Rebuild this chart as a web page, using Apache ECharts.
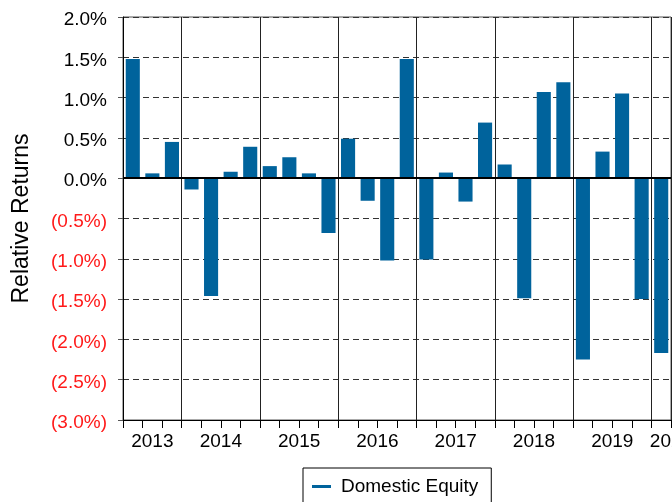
<!DOCTYPE html>
<html>
<head>
<meta charset="utf-8">
<script src="https://cdn.jsdelivr.net/npm/echarts@6/dist/echarts.min.js"></script>
<style>
  html, body { margin: 0; padding: 0; background: #fff; }
  #chart { width: 672px; height: 502px; }
</style>
</head>
<body>
<div id="chart"></div>
<script>
// quarters shown on the chart (2013 Q2 .. 2020 Q1)
var quarters = [
  '2013Q2', '2013Q3', '2013Q4',
  '2014Q1', '2014Q2', '2014Q3', '2014Q4',
  '2015Q1', '2015Q2', '2015Q3', '2015Q4',
  '2016Q1', '2016Q2', '2016Q3', '2016Q4',
  '2017Q1', '2017Q2', '2017Q3', '2017Q4',
  '2018Q1', '2018Q2', '2018Q3', '2018Q4',
  '2019Q1', '2019Q2', '2019Q3', '2019Q4',
  '2020Q1'
];
// relative returns in %
var domesticEquity = [
  1.48, 0.06, 0.45,
  -0.14, -1.46, 0.08, 0.39,
  0.15, 0.26, 0.06, -0.68,
  0.49, -0.28, -1.02, 1.48,
  -1.01, 0.07, -0.29, 0.69,
  0.17, -1.49, 1.07, 1.19,
  -2.25, 0.33, 1.05, -1.50,
  -2.17
];
// year labels and where they sit (in quarter units from the left edge)
var yearLabels = ['2013', '2014', '2015', '2016', '2017', '2018', '2019', '2020'];
var yearLabelPos = [1.5, 5, 9, 13, 17, 21, 25, 28];

var font = '"Liberation Sans", Arial, sans-serif';
var chart = echarts.init(document.getElementById('chart'));

var option = {
  animation: false,
  grid: {
    left: 123, right: 1, top: 17, bottom: 82,
    outerBoundsMode: 'none',
    containLabel: false,
    show: true, borderColor: '#555', borderWidth: 1
  },
  legend: {
    data: ['Domestic Equity'],
    left: 303, top: 468,
    padding: [9, 13, 9, 9],
    borderColor: '#000', borderWidth: 1,
    icon: 'rect', itemWidth: 19, itemHeight: 3,
    textStyle: { fontFamily: font, fontSize: 19, color: '#000', padding: [0, 0, 0, 5] }
  },
  xAxis: [{
    type: 'category',
    data: quarters,
    boundaryGap: true,
    axisLine: { onZero: false, lineStyle: { color: '#000', width: 1 } },
    axisTick: { show: true, interval: 0, length: 8, lineStyle: { color: '#000' } },
    axisLabel: { show: false },
    splitLine: {
      show: true,
      interval: function (index) { return quarters[index].slice(4) === 'Q1'; },
      lineStyle: { color: '#222', width: 1, type: 'solid' }
    }
  }, {
    type: 'value',
    position: 'bottom',
    min: 0, max: 28, interval: 0.5,
    axisLine: { show: false },
    axisTick: { show: false },
    splitLine: { show: false },
    axisLabel: {
      margin: 12,
      fontFamily: font, fontSize: 19, color: '#000',
      showMinLabel: true, showMaxLabel: true,
      formatter: function (v) {
        var i = yearLabelPos.indexOf(v);
        return i >= 0 ? yearLabels[i] : '';
      }
    }
  }],
  yAxis: {
    type: 'value',
    min: -3, max: 2, interval: 0.5,
    name: 'Relative Returns',
    nameLocation: 'middle',
    nameGap: 90,
    nameTextStyle: { fontFamily: font, fontSize: 23, color: '#000' },
    axisLine: { show: true, lineStyle: { color: '#000', width: 1 } },
    axisTick: { show: true, length: 9, lineStyle: { color: '#555', type: [5, 4] } },
    axisLabel: {
      margin: 16,
      verticalAlign: 'top',
      lineHeight: 6,
      fontFamily: font, fontSize: 19,
      color: function (v) { return v < 0 ? '#ff1a1a' : '#000'; },
      formatter: function (v) {
        return v < 0 ? '(' + (-v).toFixed(1) + '%)' : v.toFixed(1) + '%';
      }
    },
    splitLine: { show: true, lineStyle: { color: '#333', width: 1, type: [6, 4] } }
  },
  series: [{
    name: 'Domestic Equity',
    type: 'bar',
    xAxisIndex: 0,
    data: domesticEquity,
    barCategoryGap: '28%',
    itemStyle: { color: '#00639c' },
    markLine: {
      silent: true,
      symbol: 'none',
      label: { show: false },
      lineStyle: { color: '#000', width: 2, type: 'solid' },
      data: [{ yAxis: 0 }]
    }
  }]
};
chart.setOption(option);
</script>
</body>
</html>
